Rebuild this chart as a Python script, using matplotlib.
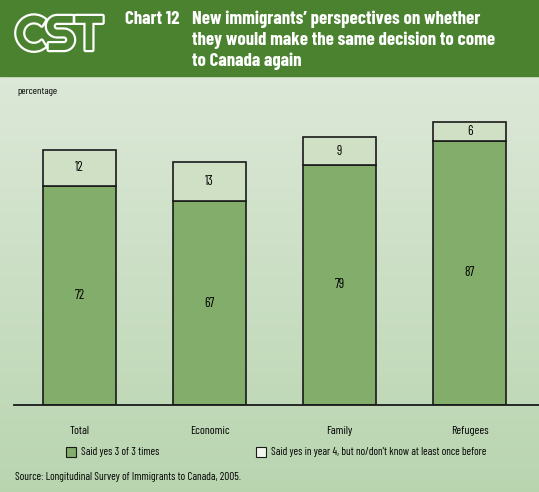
import numpy as np
import matplotlib
matplotlib.use("Agg")
import matplotlib.pyplot as plt
from matplotlib.patches import Rectangle
import matplotlib.patheffects as pe

# data
categories = ["Total", "Economic", "Family", "Refugees"]
said_yes_3of3 = [72, 67, 79, 87]
yes_year4_only = [12, 13, 9, 6]
legend_labels = ["Said yes 3 of 3 times",
                 "Said yes in year 4, but no/don't know at least once before"]
title_lines = ["New immigrants\u2019 perspectives on whether",
               "they would make the same decision to come",
               "to Canada again"]
source = "Source: Longitudinal Survey of Immigrants to Canada, 2005."

DARK = "#82ad6a"
LIGHT = "#cfe0c4"
HEADER = "#4a822f"
FONT = ["Barlow Condensed", "DejaVu Sans"]

W, H = 539, 492
fig = plt.figure(figsize=(W / 100, H / 100), dpi=100)

# background gradient
bg = fig.add_axes([0, 0, 1, 1])
grad = np.linspace(0, 1, 256)[:, None]
top = np.array([0.89, 0.925, 0.875])
bot = np.array([0.725, 0.835, 0.69])
img = top[None, None, :] * (1 - grad[..., None]) + bot[None, None, :] * grad[..., None]
bg.imshow(img, aspect="auto", extent=[0, W, H, 0])
bg.add_patch(Rectangle((0, 0), W, 76, color=HEADER))
bg.set_xlim(0, W)
bg.set_ylim(H, 0)
bg.axis("off")

# header
bg.text(15, 37, "CST", fontsize=35, color=HEADER, va="center",
        ha="left", family=["Righteous", "DejaVu Sans"],
        path_effects=[pe.withStroke(linewidth=3.2, foreground="white")])
bg.text(125, 19, "Chart 12", fontsize=13.5, fontweight="bold", color="white",
        va="center", family=FONT)
for i, line in enumerate(title_lines):
    bg.text(192, 19 + i * 21, line, fontsize=13.5, fontweight="bold", color="white",
            va="center", family=FONT)

# main axes: baseline at y=405px
px_per_unit = 3.04
ymax = 100
ax_h = ymax * px_per_unit
x0, x1 = 14, 539
ax = fig.add_axes([x0 / W, (H - 405) / H, (x1 - x0) / W, ax_h / H])
ax.patch.set_alpha(0)
x = np.arange(len(categories))
ax.bar(x, said_yes_3of3, width=0.56, color=DARK, edgecolor="#1a1a1a", linewidth=1.2)
ax.bar(x, yes_year4_only, bottom=said_yes_3of3, width=0.56, color=LIGHT,
       edgecolor="#1a1a1a", linewidth=1.2)
for xi, a, b in zip(x, said_yes_3of3, yes_year4_only):
    ax.text(xi, a / 2, str(a), ha="center", va="center", fontsize=9.5, family=FONT)
    ax.text(xi, a + b / 2, str(b), ha="center", va="center", fontsize=9.5, family=FONT)
ax.set_xlim((x0 - 79.5) / 130, (x1 - 79.5) / 130)
ax.set_ylim(0, ymax)
for s in ["top", "right", "left"]:
    ax.spines[s].set_visible(False)
ax.spines["bottom"].set_linewidth(1.3)
ax.spines["bottom"].set_color("#1a1a1a")
ax.set_yticks([])
ax.set_xticks(x)
ax.set_xticklabels(categories, fontsize=8.5, family=FONT)
ax.tick_params(axis="x", length=0, pad=15)

bg.text(17, 92, "percentage", fontsize=7.5, va="center", family=FONT)

# legend
bg.add_patch(Rectangle((66, 447), 10, 10, facecolor=DARK, edgecolor="#1a1a1a", lw=0.8))
bg.text(81, 452, legend_labels[0], fontsize=8, va="center", family=FONT)
bg.add_patch(Rectangle((256, 447), 10, 10, facecolor="#f2f5ee", edgecolor="#1a1a1a", lw=0.8))
bg.text(271, 452, legend_labels[1], fontsize=8, va="center", family=FONT)

bg.text(15, 477, source, fontsize=8, va="center", family=FONT)

fig.savefig("out.png", dpi=100)
